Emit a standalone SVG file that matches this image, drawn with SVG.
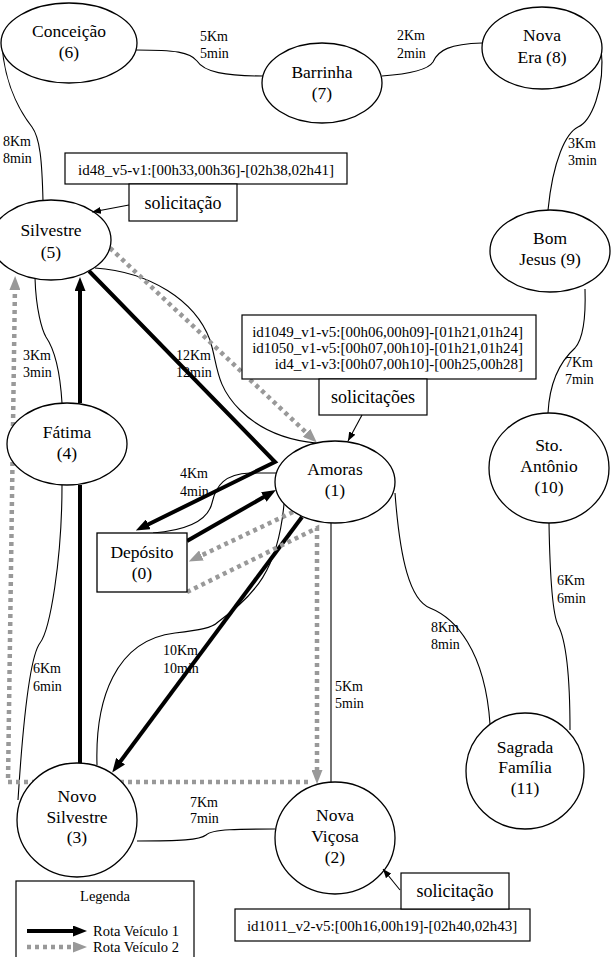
<svg xmlns="http://www.w3.org/2000/svg" width="611" height="957" viewBox="0 0 611 957">
<style>
text{font-family:'Liberation Serif','Times New Roman','DejaVu Serif',serif;fill:#000}
.node{fill:#fff;stroke:#000;stroke-width:1.3}
.lbl{font-size:17.5px;text-anchor:middle}
.dist{font-size:14px}
.edge{fill:none;stroke:#000;stroke-width:1.1}
.v1{fill:none;stroke:#000;stroke-width:4}
.v2{fill:none;stroke:#999;stroke-width:4.5;stroke-dasharray:4 4}
.box{fill:#fff;stroke:#000;stroke-width:1.2}
.req{font-size:15px}
.sol{font-size:18px;text-anchor:middle}
.call{fill:none;stroke:#000;stroke-width:1.1}
.leg{font-size:14.5px}
</style>
<defs>
<marker id="a1" viewBox="0 0 14 11" markerWidth="14" markerHeight="11" markerUnits="userSpaceOnUse" refX="6" refY="5.5" orient="auto"><path d="M0,0 L14,5.5 L0,11 z" fill="#000"/></marker>
<marker id="a2" viewBox="0 0 14 11" markerWidth="14" markerHeight="11" markerUnits="userSpaceOnUse" refX="6" refY="5.5" orient="auto"><path d="M0,0 L14,5.5 L0,11 z" fill="#999"/></marker>
<marker id="as" viewBox="0 0 9 7" markerWidth="9" markerHeight="7" markerUnits="userSpaceOnUse" refX="9" refY="3.5" orient="auto"><path d="M0,0 L9,3.5 L0,7 z" fill="#000"/></marker>
</defs>

<g id="connectors" font-family="Liberation Serif, serif">
<path class="edge" d="M136,50 C175,50 190,52 197,61 C204,72 225,76 263,76"/>
<text class="dist" x="200" y="41">5Km</text><text class="dist" x="200" y="58">5min</text>
<path class="edge" d="M382,76 C410,74 428,70 433,62 C438,50 450,44 482,43"/>
<text class="dist" x="397" y="40">2Km</text><text class="dist" x="397" y="58">2min</text>
<path class="edge" d="M601,47 C606,90 590,122 578,127 C566,133 553,160 548,210"/>
<text class="dist" x="568" y="148">3Km</text><text class="dist" x="568" y="165">3min</text>
<path class="edge" d="M585,289 C586,320 582,340 575,348 C565,357 550,375 548,413"/>
<text class="dist" x="565" y="367">7Km</text><text class="dist" x="565" y="384">7min</text>
<path class="edge" d="M549,523 C550,580 553,615 558,625 C566,640 570,680 570,730"/>
<text class="dist" x="557" y="585">6Km</text><text class="dist" x="557" y="603">6min</text>
<path class="edge" d="M395,493 C400,560 410,600 430,608 C455,618 485,650 490,724"/>
<text class="dist" x="431" y="632">8Km</text><text class="dist" x="431" y="649">8min</text>
<path class="edge" d="M331,523 L331,783"/>
<text class="dist" x="335" y="691">5Km</text><text class="dist" x="335" y="708">5min</text>
<path class="edge" d="M137,841 C180,841 200,840 206,835 C212,829 240,829 275,829"/>
<text class="dist" x="190" y="807">7Km</text><text class="dist" x="190" y="823">7min</text>
<path class="edge" d="M97,765 C95,700 115,640 175,633 C200,630 212,628 218,622 C255,595 278,570 284,504"/>
<text class="dist" x="163" y="655">10Km</text><text class="dist" x="163" y="673">10min</text>
<path class="edge" d="M153,533 C190,530 208,520 212,503 C216,485 225,474 250,473 L276,473"/>
<text class="dist" x="180" y="478">4Km</text><text class="dist" x="180" y="496">4min</text>
<path class="edge" d="M95,268 C150,272 195,300 210,340 C218,365 215,385 240,410 C260,430 285,440 316,443"/>
<text class="dist" x="176" y="360">12Km</text><text class="dist" x="176" y="377">12min</text>
<path class="edge" d="M35,278 C36,310 42,330 46,337 C55,350 60,370 62,403"/>
<text class="dist" x="23" y="360">3Km</text><text class="dist" x="23" y="377">3min</text>
<path class="edge" d="M2,45 C5,90 25,118 32,127 C40,138 42,160 43,201"/>
<text class="dist" x="3" y="146">8Km</text><text class="dist" x="3" y="163">8min</text>
<path class="edge" d="M62,485 C62,560 50,630 40,643 C33,652 25,690 18,800"/>
<text class="dist" x="33" y="673">6Km</text><text class="dist" x="33" y="691">6min</text>
</g>

<g id="routes">
<path class="v1" d="M187,541 L269,494" marker-end="url(#a1)"/>
<path class="v1" d="M302,517 L117,766" marker-end="url(#a1)"/>
<path class="v1" d="M80,763 L80,485"/>
<path class="v1" d="M80,403 L80,285" marker-end="url(#a1)"/>
<path class="v1" d="M89,271 L275,462 L143,527" marker-end="url(#a1)"/>
<path class="v2" d="M293,512 L196,558" marker-end="url(#a2)"/>
<path class="v2" d="M187,592 L317,528 L317,776" marker-end="url(#a2)"/>
<path class="v2" d="M308,782 L8,782 L15,284" marker-end="url(#a2)"/>
<path class="v2" d="M110,248 L311,437" marker-end="url(#a2)"/>
</g>

<g id="n6"><ellipse class="node" cx="69" cy="43" rx="68" ry="40"/><text class="lbl" x="69" y="37">Conceição</text><text class="lbl" x="69" y="58">(6)</text></g>
<g id="n7"><ellipse class="node" cx="322" cy="83" rx="60" ry="40"/><text class="lbl" x="322" y="78">Barrinha</text><text class="lbl" x="322" y="99">(7)</text></g>
<g id="n8"><ellipse class="node" cx="542" cy="48" rx="60" ry="41"/><text class="lbl" x="542" y="41">Nova</text><text class="lbl" x="542" y="63">Era (8)</text></g>
<g id="n9"><ellipse class="node" cx="550" cy="251" rx="60" ry="41"/><text class="lbl" x="550" y="244">Bom</text><text class="lbl" x="550" y="265">Jesus (9)</text></g>
<g id="n10"><ellipse class="node" cx="549" cy="468" rx="60" ry="55"/><text class="lbl" x="549" y="451">Sto.</text><text class="lbl" x="549" y="472">Antônio</text><text class="lbl" x="549" y="493">(10)</text></g>
<g id="n1"><ellipse class="node" cx="335" cy="482" rx="60" ry="41"/><text class="lbl" x="335" y="475">Amoras</text><text class="lbl" x="335" y="496">(1)</text></g>
<g id="n5"><ellipse class="node" cx="51" cy="240" rx="60" ry="40"/><text class="lbl" x="51" y="236">Silvestre</text><text class="lbl" x="51" y="258">(5)</text></g>
<g id="n4"><ellipse class="node" cx="67" cy="444" rx="60" ry="41"/><text class="lbl" x="67" y="438">Fátima</text><text class="lbl" x="67" y="459">(4)</text></g>
<g id="n0"><rect class="node" x="97" y="533" width="90" height="59"/><text class="lbl" x="142" y="558">Depósito</text><text class="lbl" x="142" y="579">(0)</text></g>
<g id="n3"><ellipse class="node" cx="77" cy="820" rx="60" ry="57"/><text class="lbl" x="77" y="802">Novo</text><text class="lbl" x="77" y="823">Silvestre</text><text class="lbl" x="77" y="843">(3)</text></g>
<g id="n2"><ellipse class="node" cx="335" cy="838" rx="60" ry="56"/><text class="lbl" x="335" y="821">Nova</text><text class="lbl" x="335" y="842">Viçosa</text><text class="lbl" x="335" y="863">(2)</text></g>
<g id="n11"><ellipse class="node" cx="525" cy="771" rx="59" ry="58"/><text class="lbl" x="525" y="753">Sagrada</text><text class="lbl" x="525" y="773">Família</text><text class="lbl" x="525" y="794">(11)</text></g>

<g id="req5">
<rect class="box" x="65" y="153" width="282" height="31"/>
<text class="req" x="206" y="175" text-anchor="middle">id48_v5-v1:[00h33,00h36]-[02h38,02h41]</text>
<rect class="box" x="129" y="184" width="108" height="37"/>
<text class="sol" x="183" y="209">solicitação</text>
<path class="call" d="M129,205 L92,212" marker-end="url(#as)"/>
</g>
<g id="req1">
<rect class="box" x="242" y="315" width="294" height="64"/>
<text class="req" x="523" y="337" text-anchor="end">id1049_v1-v5:[00h06,00h09]-[01h21,01h24]</text>
<text class="req" x="523" y="353" text-anchor="end">id1050_v1-v5:[00h07,00h10]-[01h21,01h24]</text>
<text class="req" x="523" y="369" text-anchor="end">id4_v1-v3:[00h07,00h10]-[00h25,00h28]</text>
<rect class="box" x="319" y="379" width="108" height="36"/>
<text class="sol" x="373" y="403">solicitações</text>
<path class="call" d="M362,415 L348,441" marker-end="url(#as)"/>
</g>
<g id="req2">
<rect class="box" x="235" y="909" width="295" height="32"/>
<text class="req" x="382" y="931" text-anchor="middle">id1011_v2-v5:[00h16,00h19]-[02h40,02h43]</text>
<rect class="box" x="401" y="873" width="108" height="36"/>
<text class="sol" x="455" y="897">solicitação</text>
<path class="call" d="M400,890 L383,869" marker-end="url(#as)"/>
</g>

<g id="legend">
<rect class="box" x="16" y="881" width="178" height="90"/>
<text class="leg" x="105" y="901" text-anchor="middle">Legenda</text>
<path class="v1" d="M27,931 L79,931" marker-end="url(#a1)"/>
<text class="leg" x="93" y="936">Rota Veículo 1</text>
<path class="v2" d="M27,947 L79,947" marker-end="url(#a2)"/>
<text class="leg" x="93" y="952">Rota Veículo 2</text>
</g>
</svg>
